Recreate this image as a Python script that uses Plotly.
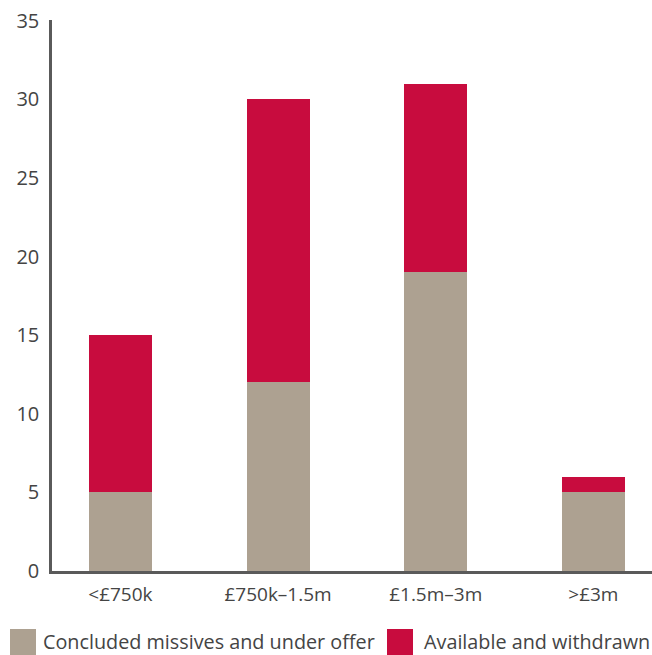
import plotly.graph_objects as go

categories = ["<£750k", "£750k–1.5m", "£1.5m–3m", ">£3m"]
concluded = [5, 12, 19, 5]
available = [10, 18, 12, 1]
series_names = ["Concluded missives and under offer", "Available and withdrawn"]
series_colors = ["#ADA191", "#C80C3E"]
y_ticks = [0, 5, 10, 15, 20, 25, 30, 35]

FONT = "Open Sans"
TEXT_COLOR = "#444444"
AXIS_COLOR = "#5a5a5a"

fig = go.Figure()
for name, vals, col in zip(series_names, [concluded, available], series_colors):
    fig.add_trace(go.Bar(
        x=list(range(len(categories))), y=vals, name=name,
        marker=dict(color=col, line=dict(width=0)),
        width=0.4, showlegend=False,
    ))

# Legend drawn as colour swatches with labels beneath the plot (pixel positions)
swatch_x = [10, 387]
label_x = [41, 422]
for x0, tx, name, col in zip(swatch_x, label_x, series_names, series_colors):
    fig.add_shape(type="rect", xref="paper", yref="paper",
                  x0=(x0 - 52) / 600, x1=(x0 + 26 - 52) / 600,
                  y0=(571 - 655) / 551, y1=(571 - 629) / 551,
                  fillcolor=col, line=dict(width=0))
    fig.add_annotation(xref="paper", yref="paper",
                       x=(tx - 52) / 600, y=(571 - 642) / 551,
                       xanchor="left", yanchor="middle", showarrow=False,
                       text=name, font=dict(family=FONT, size=19.8, color=TEXT_COLOR))

fig.update_layout(
    width=652, height=655,
    margin=dict(l=52, r=0, t=20, b=84),
    barmode="stack",
    plot_bgcolor="white", paper_bgcolor="white",
    font=dict(family=FONT, size=20, color=TEXT_COLOR),
    xaxis=dict(
        range=[-0.434, 3.372],
        tickmode="array", tickvals=list(range(len(categories))), ticktext=categories,
        showline=True, linecolor=AXIS_COLOR, linewidth=2.5,
        showgrid=False, zeroline=False, ticks="",
        ticklabelstandoff=4,
        tickfont=dict(family=FONT, size=19, color=TEXT_COLOR),
    ),
    yaxis=dict(
        range=[0, 35.05],
        tickmode="array", tickvals=y_ticks,
        showline=True, linecolor=AXIS_COLOR, linewidth=2.5,
        showgrid=False, zeroline=False, ticks="",
        ticklabelstandoff=6,
        tickfont=dict(family=FONT, size=20, color=TEXT_COLOR),
    ),
)

fig.write_html("out.html")
